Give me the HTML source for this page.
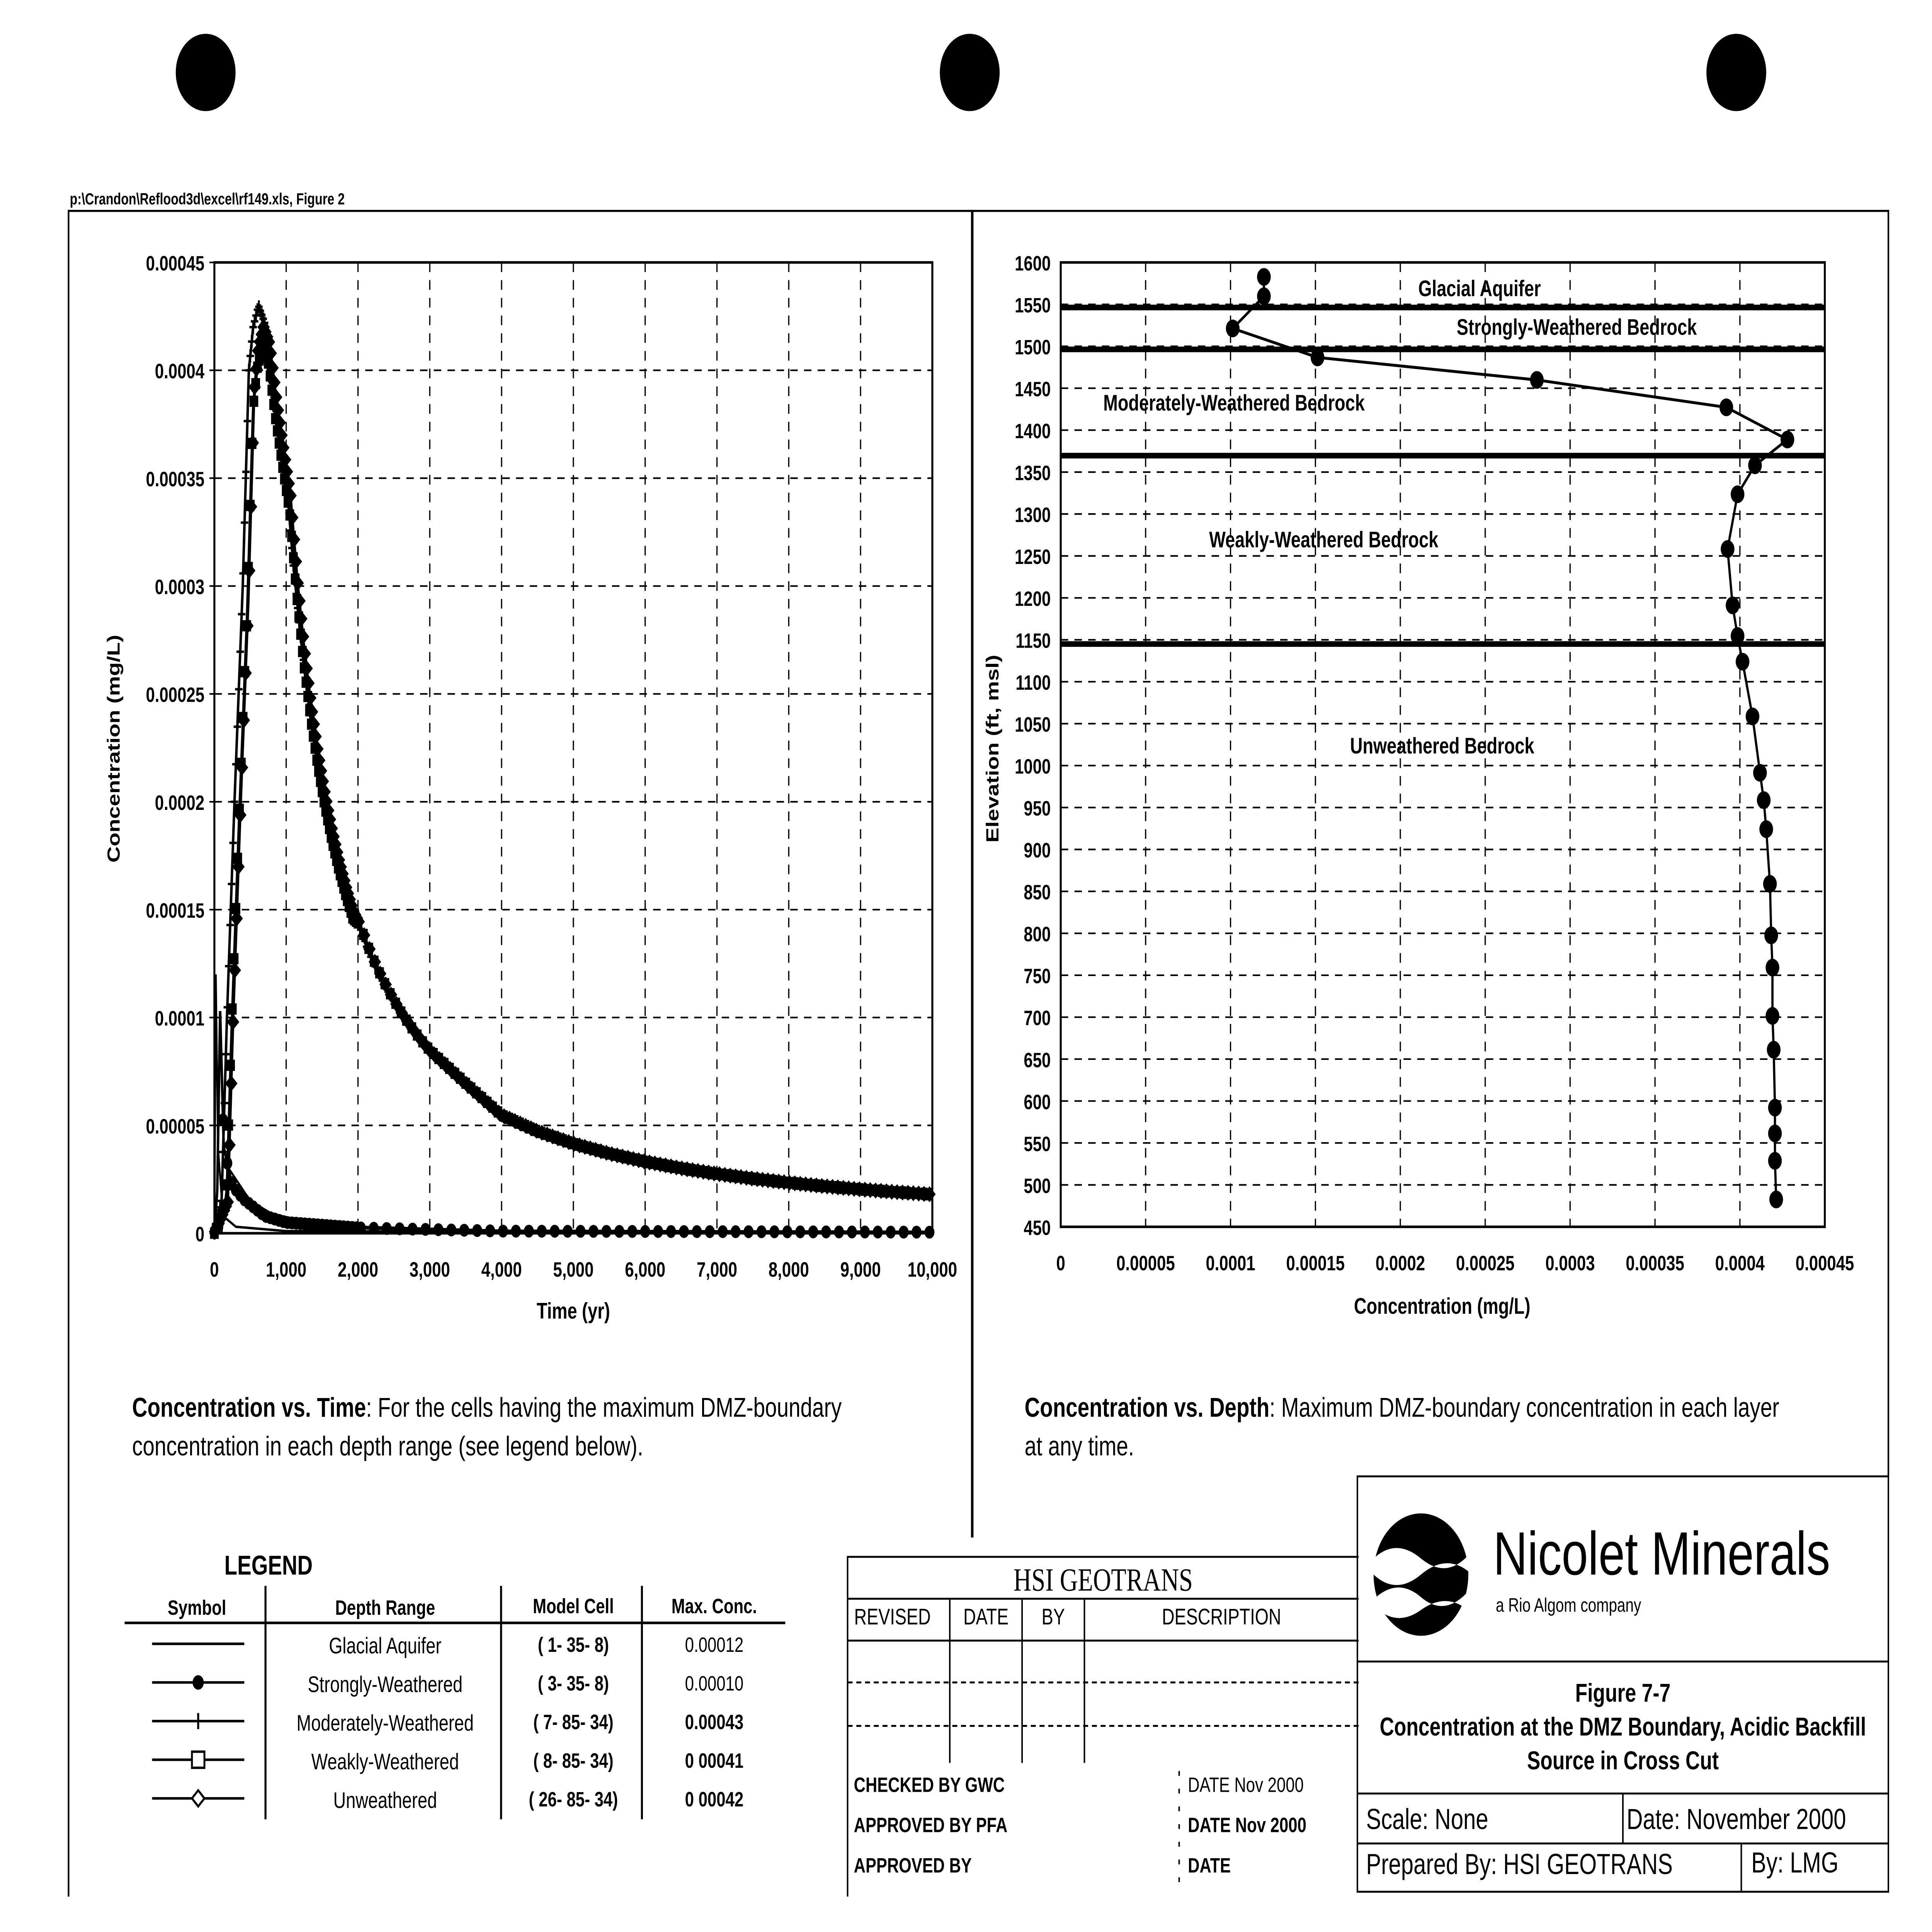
<!DOCTYPE html>
<html><head><meta charset="utf-8"><style>
html,body{margin:0;padding:0;background:#fff;width:100%;height:100%;overflow:hidden;}
svg{display:block;width:100vw;height:100vh;}
text{font-family:"Liberation Sans",Arial,sans-serif;fill:#000;}
.b{font-weight:bold;}
</style></head><body>
<svg id="s" xmlns="http://www.w3.org/2000/svg" viewBox="0 0 1550 1200" preserveAspectRatio="none">
<rect width="1550" height="1200" fill="#fff"/>
<circle cx="165" cy="45" r="24" fill="#000"/>
<circle cx="778" cy="45" r="24" fill="#000"/>
<circle cx="1393" cy="45" r="24" fill="#000"/>
<text x="56" y="127" font-size="10" class="b">p:\Crandon\Reflood3d\excel\rf149.xls, Figure 2</text>
<g stroke="#000" stroke-width="1.3" fill="none">
<polyline points="55,1178 55,131 1515,131 1515,917"/>
<line x1="780" y1="131" x2="780" y2="955" stroke-width="2"/>
</g>
<g id="left"></g>
<g id="right"></g>
<text x="106" y="880" font-size="17"><tspan class="b">Concentration vs. Time</tspan>:  For the cells having the maximum DMZ-boundary</text>
<text x="106" y="904" font-size="17">concentration in each depth range (see legend below).</text>
<text x="822" y="880" font-size="17"><tspan class="b">Concentration vs. Depth</tspan>:  Maximum DMZ-boundary concentration in each layer</text>
<text x="822" y="904" font-size="17">at any time.</text>
<text x="180" y="978" font-size="17" class="b">LEGEND</text>
<g font-size="13" class="b">
<text x="158" y="1003" text-anchor="middle">Symbol</text>
<text x="309" y="1003" text-anchor="middle">Depth Range</text>
<text x="460" y="1002" text-anchor="middle">Model Cell</text>
<text x="573" y="1002" text-anchor="middle">Max. Conc.</text>
</g>
<g stroke="#000" stroke-width="1.6">
<line x1="100" y1="1008" x2="630" y2="1008"/>
<line x1="213" y1="985" x2="213" y2="1130"/>
<line x1="402" y1="985" x2="402" y2="1130"/>
<line x1="515" y1="985" x2="515" y2="1130"/>
<line x1="122" y1="1021" x2="196" y2="1021"/>
<line x1="122" y1="1045" x2="196" y2="1045"/>
<line x1="122" y1="1069" x2="196" y2="1069"/>
<line x1="122" y1="1093" x2="196" y2="1093"/>
<line x1="122" y1="1117" x2="196" y2="1117"/>
<line x1="159" y1="1064" x2="159" y2="1074"/>
</g>
<circle cx="159" cy="1045" r="4.5"/>
<rect x="154" y="1088" width="10" height="10" fill="#fff" stroke="#000" stroke-width="1.5"/>
<polygon points="159,1112 164,1117 159,1122 154,1117" fill="#fff" stroke="#000" stroke-width="1.5"/>
<g font-size="14">
<text x="309" y="1027" text-anchor="middle">Glacial Aquifer</text>
<text x="309" y="1051" text-anchor="middle">Strongly-Weathered</text>
<text x="309" y="1075" text-anchor="middle">Moderately-Weathered</text>
<text x="309" y="1099" text-anchor="middle">Weakly-Weathered</text>
<text x="309" y="1123" text-anchor="middle">Unweathered</text>
</g>
<g font-size="13" class="b">
<text x="460" y="1026" text-anchor="middle">( 1- 35-  8)</text>
<text x="460" y="1050" text-anchor="middle">( 3- 35-  8)</text>
<text x="460" y="1074" text-anchor="middle">( 7- 85- 34)</text>
<text x="460" y="1098" text-anchor="middle">( 8- 85- 34)</text>
<text x="460" y="1122" text-anchor="middle">( 26- 85- 34)</text>
<text x="573" y="1026" text-anchor="middle" font-weight="normal">0.00012</text>
<text x="573" y="1050" text-anchor="middle" font-weight="normal">0.00010</text>
<text x="573" y="1074" text-anchor="middle">0.00043</text>
<text x="573" y="1098" text-anchor="middle">0 00041</text>
<text x="573" y="1122" text-anchor="middle">0 00042</text>
</g>
<g stroke="#000" stroke-width="1.2" fill="none">
<polyline points="680,1178 680,967 1090,967"/>
<line x1="680" y1="993" x2="1090" y2="993"/>
<line x1="680" y1="1019" x2="1090" y2="1019"/>
<line x1="762" y1="993" x2="762" y2="1095"/>
<line x1="820" y1="993" x2="820" y2="1095"/>
<line x1="870" y1="993" x2="870" y2="1095"/>
<line x1="680" y1="1045" x2="1090" y2="1045" stroke-dasharray="4,3"/>
<line x1="680" y1="1072" x2="1090" y2="1072" stroke-dasharray="4,3"/>
<line x1="946" y1="1100" x2="946" y2="1170" stroke-dasharray="3,8"/>
</g>
<text x="885" y="988" font-size="20" text-anchor="middle" style="font-family:'Liberation Serif',serif">HSI GEOTRANS</text>
<g font-size="14">
<text x="716" y="1009" text-anchor="middle">REVISED</text>
<text x="791" y="1009" text-anchor="middle">DATE</text>
<text x="845" y="1009" text-anchor="middle">BY</text>
<text x="980" y="1009" text-anchor="middle">DESCRIPTION</text>
</g>
<g font-size="13" class="b">
<text x="685" y="1113">CHECKED BY  GWC</text>
<text x="685" y="1138">APPROVED BY   PFA</text>
<text x="685" y="1163">APPROVED BY</text>
<text x="953" y="1113" font-weight="normal">DATE   Nov 2000</text>
<text x="953" y="1138">DATE   Nov 2000</text>
<text x="953" y="1163">DATE</text>
</g>
<g stroke="#000" stroke-width="1.2" fill="none">
<rect x="1089" y="917" width="426" height="258"/>
<line x1="1089" y1="1032" x2="1515" y2="1032"/>
<line x1="1089" y1="1114" x2="1515" y2="1114"/>
<line x1="1089" y1="1145" x2="1515" y2="1145"/>
<line x1="1302" y1="1114" x2="1302" y2="1145"/>
<line x1="1397" y1="1145" x2="1397" y2="1175"/>
</g>
<circle cx="1140" cy="978" r="38" fill="#000"/>
<path d="M1102,968 Q1120,955 1140,968 T1178,966 L1178,976 Q1160,965 1140,978 T1102,978 Z" fill="#fff"/>
<path d="M1104,992 Q1122,980 1140,992 T1176,990 L1174,998 Q1158,990 1140,1000 T1106,1000 Z" fill="#fff"/>
<text x="1198" y="978" font-size="38">Nicolet Minerals</text>
<text x="1200" y="1001" font-size="12">a Rio Algom company</text>
<g font-size="16" class="b" text-anchor="middle">
<text x="1302" y="1057">Figure 7-7</text>
<text x="1302" y="1078">Concentration at the DMZ Boundary, Acidic Backfill</text>
<text x="1302" y="1099">Source in Cross Cut</text>
</g>
<g font-size="18">
<text x="1096" y="1136">Scale:  None</text>
<text x="1305" y="1136">Date: November 2000</text>
<text x="1096" y="1164">Prepared By:  HSI GEOTRANS</text>
<text x="1405" y="1163">By:  LMG</text>
</g>
</svg>
<script>
(function(){
var NS="http://www.w3.org/2000/svg";
function el(p,t,a,txt){var e=document.createElementNS(NS,t);for(var k in a)e.setAttribute(k,a[k]);if(txt!=null)e.textContent=txt;p.appendChild(e);return e;}
var L=document.getElementById('left'),R=document.getElementById('right');
var x0=172,x1=748,y0=766,y1=163;
function X(t){return x0+(x1-x0)*t/10000;}
function Y(c){return y0-(y0-y1)*c/0.00045;}
for(var i=1;i<10;i++){var x=X(i*1000);el(L,'line',{x1:x,y1:y1,x2:x,y2:y0,stroke:'#000','stroke-width':1,'stroke-dasharray':'6,5'});}
for(var j=1;j<9;j++){var y=Y(j*0.00005);el(L,'line',{x1:x0,y1:y,x2:x1,y2:y,stroke:'#000','stroke-width':1,'stroke-dasharray':'6,5'});}
el(L,'rect',{x:x0,y:y1,width:x1-x0,height:y0-y1,fill:'none',stroke:'#000','stroke-width':1.6});
var yl=['0','0.00005','0.0001','0.00015','0.0002','0.00025','0.0003','0.00035','0.0004','0.00045'];
for(var j=0;j<10;j++){el(L,'text',{x:x0-8,y:Y(j*0.00005)+5,'font-size':13,'text-anchor':'end','font-weight':'bold'},yl[j]);el(L,'line',{x1:x0-4,y1:Y(j*0.00005),x2:x0,y2:Y(j*0.00005),stroke:'#000'});}
var xl=['0','1,000','2,000','3,000','4,000','5,000','6,000','7,000','8,000','9,000','10,000'];
for(var i=0;i<11;i++)el(L,'text',{x:X(i*1000),y:y0+27,'font-size':13,'text-anchor':'middle','font-weight':'bold'},xl[i]);
el(L,'text',{x:460,y:819,'font-size':14,'text-anchor':'middle','font-weight':'bold'},'Time (yr)');
el(L,'text',{x:96,y:465,'font-size':14,'text-anchor':'middle','font-weight':'bold',transform:'rotate(-90 96 465)'},'Concentration (mg/L)');
function interp(pts,t){if(t<=pts[0][0])return pts[0][1];for(var k=1;k<pts.length;k++){if(t<=pts[k][0]){var a=pts[k-1],b=pts[k];return a[1]+(b[1]-a[1])*(t-a[0])/(b[0]-a[0]);}}return pts[pts.length-1][1];}
var mod=[[0,0],[100,0.000015],[175,0.0001],[280,0.0002],[395,0.0003],[480,0.0004],[540,0.00042],[614,0.00043],[700,0.000422],[800,0.000395],[900,0.000372],[1000,0.00035]];
for(var t=1100;t<=10000;t+=(t<3000?100:500)){var f=0.00035*Math.pow(t/1000,-1.29);var tail=t>4000?0:0;mod.push([t,f*(t>3500?0.93+0.07*Math.min(1,(t-3500)/6500)*1.0:1)]);}
mod[mod.length-1][1]=0.000018;
function shift(pts,dt,sc){return pts.map(function(p,i){return i==0?[0,0]:[p[0]<3000?p[0]+dt*(1-p[0]/3000):p[0],p[1]*(p[0]<2000?sc:1)];});}
var unw=shift(mod,90,0.977),wk=shift(mod,70,0.955);
var glac=[[0,0],[20,0.00012],[50,0.00004],[120,0.000008],[300,0.000003],[1000,0.000001],[10000,0]];
var str=[[0,0],[40,0.00002],[80,0.000103],[130,0.00004],[250,0.000022],[400,0.000016],[700,0.000008],[1000,0.000005],[2000,0.0000025],[4000,0.000001],[10000,0.0000005]];
var tail2=[[0,0],[100,0],[200,0.00003],[300,0.000025],[500,0.000015],[800,0.000009],[1200,0.000006],[2000,0.000003],[4000,0.0000012],[10000,0.0000005]];
function path(pts,w){var d='';for(var t=0;t<=10000;t+=(t<2000?5:50)){d+=(t==0?'M':'L')+X(t).toFixed(2)+','+Y(interp(pts,t)).toFixed(2);}el(L,'path',{d:d,fill:'none',stroke:'#000','stroke-width':w});}
path(glac,1.5);path(str,2);path(tail2,1.5);path(mod,2);path(unw,2);path(wk,2);
function markers(pts,kind,step,start){for(var t=start;t<=10000;t+=(t<2000?step:step*3)){var x=X(t),y=Y(interp(pts,t));
 if(kind=='c')el(L,'circle',{cx:x,cy:y,r:4});
 else if(kind=='d')el(L,'polygon',{points:(x)+','+(y-5)+' '+(x+5)+','+y+' '+x+','+(y+5)+' '+(x-5)+','+y});
 else if(kind=='s')el(L,'rect',{x:x-3.5,y:y-3.5,width:7,height:7,fill:'#000'});
 else {el(L,'line',{x1:x-3,y1:y,x2:x+3,y2:y,stroke:'#000','stroke-width':1.5});el(L,'line',{x1:x,y1:y-4,x2:x,y2:y+4,stroke:'#000','stroke-width':1.5});}}}
markers(wk,'s',25,0);markers(unw,'d',25,10);markers(mod,'p',20,0);markers(str,'c',60,120);
var rx0=851,rx1=1464,ry0=762,ry1=163;
function RX(c){return rx0+(rx1-rx0)*c/0.00045;}
function RY(e){return ry0-(ry0-ry1)*(e-450)/1150;}
for(var i=1;i<9;i++){var x=RX(i*0.00005);el(R,'line',{x1:x,y1:ry1,x2:x,y2:ry0,stroke:'#000','stroke-width':1,'stroke-dasharray':'6,5'});}
for(var e=500;e<1600;e+=50){var y=RY(e);el(R,'line',{x1:rx0,y1:y,x2:rx1,y2:y,stroke:'#000','stroke-width':1,'stroke-dasharray':'6,5'});}
el(R,'rect',{x:rx0,y:ry1,width:rx1-rx0,height:ry0-ry1,fill:'none',stroke:'#000','stroke-width':1.6});
for(var e=450;e<=1600;e+=50){el(R,'text',{x:rx0-8,y:RY(e)+5,'font-size':13,'text-anchor':'end','font-weight':'bold'},String(e));}
var rl=['0','0.00005','0.0001','0.00015','0.0002','0.00025','0.0003','0.00035','0.0004','0.00045'];
for(var i=0;i<10;i++)el(R,'text',{x:RX(i*0.00005),y:ry0+27,'font-size':13,'text-anchor':'middle','font-weight':'bold'},rl[i]);
el(R,'text',{x:1157,y:816,'font-size':14,'text-anchor':'middle','font-weight':'bold'},'Concentration (mg/L)');
el(R,'text',{x:801,y:465,'font-size':14,'text-anchor':'middle','font-weight':'bold',transform:'rotate(-90 801 465)'},'Elevation (ft, msl)');
[191,217,283,400].forEach(function(y){el(R,'line',{x1:rx0,y1:y,x2:rx1,y2:y,stroke:'#000','stroke-width':3.5});});
var lab=[[1187,184,'Glacial Aquifer'],[1265,208,'Strongly-Weathered Bedrock'],[990,255,'Moderately-Weathered Bedrock'],[1062,340,'Weakly-Weathered Bedrock'],[1157,468,'Unweathered Bedrock']];
lab.forEach(function(l){el(R,'text',{x:l[0],y:l[1],'font-size':14,'text-anchor':'middle','font-weight':'bold'},l[2]);});
var px=[1014,1014,989,1057,1233,1385,1434,1408,1394,1386,1390,1394,1398,1406,1412,1415,1417,1420,1421,1422,1422,1423,1424,1424,1424,1425];
var py=[172,184,204,222,236,253,273,289,307,341,376,395,411,445,480,497,515,549,581,601,631,652,688,704,721,745];
var pts='';for(var k=0;k<px.length;k++)pts+=px[k]+','+py[k]+' ';
el(R,'polyline',{points:pts,fill:'none',stroke:'#000','stroke-width':1.8});
for(var k=0;k<px.length;k++)el(R,'circle',{cx:px[k],cy:py[k],r:5.5});
})();
</script>
</body></html>
